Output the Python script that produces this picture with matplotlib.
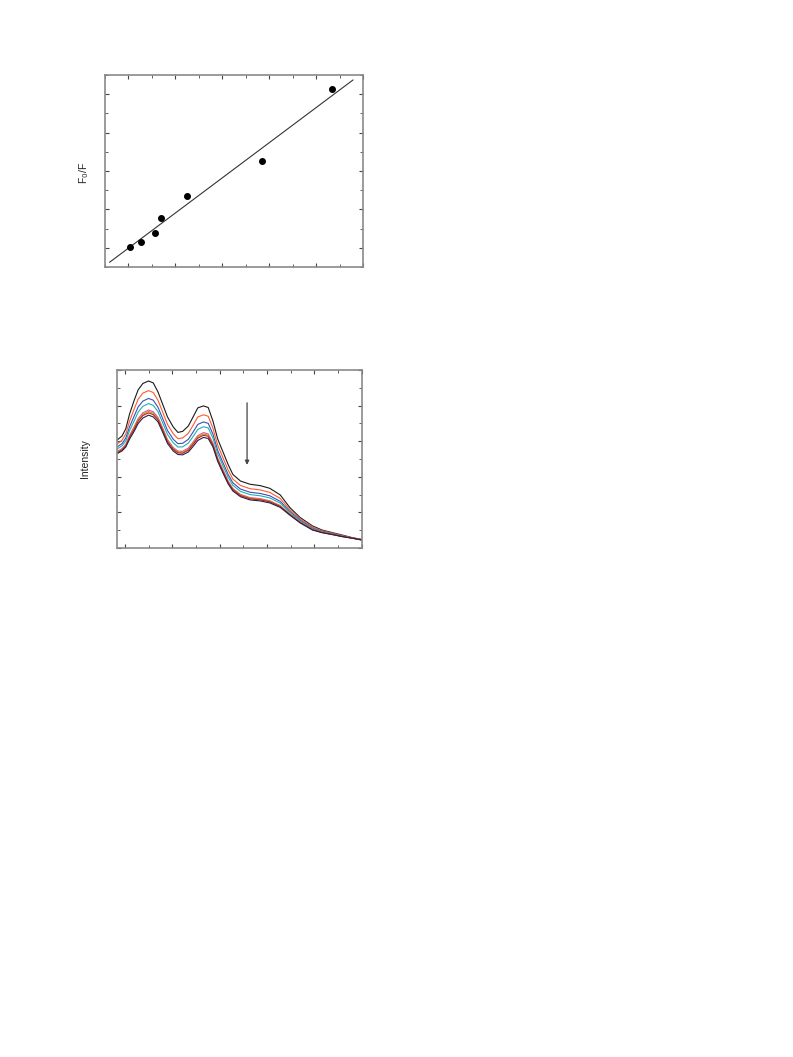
import numpy as np
import matplotlib
matplotlib.use("Agg")
import matplotlib.pyplot as plt
from matplotlib.ticker import MultipleLocator

plt.rcParams['font.family'] = ['Liberation Sans', 'DejaVu Sans']

# ---- Stern-Volmer plot (top) ----
conc = [0.04, 0.26, 0.57, 0.69, 1.24, 2.85, 4.34]
f0_over_f = [1.002, 1.016, 1.038, 1.078, 1.135, 1.227, 1.413]
fit_slope = 0.0916
fit_intercept = 0.9992
fit_range = [-0.40, 4.78]

# ---- emission spectra (bottom) ----
wavelength = [342, 347, 351, 355, 360, 364, 369, 375, 380, 385, 390, 395, 401, 406,
              411, 417, 422, 427, 433, 438, 443, 448, 454, 459, 464, 472, 482, 493,
              503, 514, 524, 535, 548, 558, 569, 579, 590, 600]
spec_black = [607, 629, 670, 753, 832, 888, 924, 938, 927, 876, 806, 736, 680, 649,
              655, 685, 736, 787, 798, 789, 713, 612, 534, 469, 413, 376, 358, 350,
              335, 298, 228, 171, 124, 101, 86, 73, 58, 48]
spec_orange = [585, 605, 641, 713, 783, 835, 870, 884, 873, 829, 762, 694, 642, 614,
               618, 644, 689, 736, 748, 740, 672, 577, 501, 438, 387, 351, 333, 326,
               312, 278, 216, 163, 118, 97, 83, 70, 57, 47]
spec_blue = [568, 586, 618, 681, 743, 792, 825, 840, 830, 790, 726, 660, 611, 586,
             588, 610, 651, 694, 708, 700, 639, 548, 474, 413, 366, 331, 313, 306,
             293, 262, 206, 156, 112, 93, 80, 68, 56, 46]
spec_teal = [556, 574, 602, 660, 716, 763, 796, 811, 801, 765, 702, 638, 591, 567,
             568, 589, 626, 666, 681, 674, 617, 529, 456, 397, 352, 318, 300, 293,
             281, 252, 200, 151, 109, 91, 79, 67, 56, 46]
spec_magenta = [542, 558, 582, 633, 683, 727, 759, 775, 765, 733, 673, 609, 565, 544,
                543, 561, 595, 631, 648, 641, 589, 505, 434, 376, 334, 301, 283, 277,
                265, 238, 191, 145, 104, 88, 77, 65, 55, 45]
spec_olive = [538, 554, 578, 627, 676, 720, 751, 767, 757, 726, 666, 603, 560, 539,
              537, 555, 588, 624, 640, 634, 583, 500, 429, 372, 330, 298, 280, 273,
              262, 236, 190, 144, 103, 88, 76, 65, 55, 45]
spec_red = [535, 551, 574, 622, 669, 712, 744, 759, 749, 720, 660, 597, 554, 534,
            532, 549, 582, 617, 633, 627, 577, 495, 424, 368, 327, 294, 276, 270,
            259, 233, 188, 143, 103, 87, 76, 65, 55, 45]
spec_navy = [530, 545, 567, 612, 657, 699, 730, 746, 736, 708, 649, 587, 545, 525,
             523, 539, 570, 604, 621, 615, 567, 486, 416, 360, 320, 288, 270, 264,
             253, 228, 185, 141, 101, 86, 75, 64, 55, 45]

spectra = [spec_black, spec_orange, spec_blue, spec_teal,
           spec_magenta, spec_olive, spec_red, spec_navy]
spec_colors = ['#1a1a1a', '#ff5a2a', '#3a50b8', '#20b0b0',
               '#e0509a', '#b0a020', '#d01818', '#22224a']

arrow_x = 479
arrow_from = 831
arrow_to = 451

spine_col = '#8a8a8a'
tick_col = '#444444'


def style_axes(ax):
    for s in ax.spines.values():
        s.set_color(spine_col)
        s.set_linewidth(1.2)
    ax.tick_params(which='both', direction='in', top=True, right=True,
                   color=tick_col, labelbottom=False, labelleft=False)
    ax.tick_params(which='major', length=3, width=0.8)
    ax.tick_params(which='minor', length=2, width=0.6)


fig = plt.figure(figsize=(7.93, 10.57), dpi=100)

# top panel
ax1 = fig.add_axes([0.1324, 0.7474, 0.3257, 0.1816])
ax1.plot(fit_range, [fit_intercept + fit_slope * x for x in fit_range],
         color='#333333', lw=0.8)
ax1.plot(conc, f0_over_f, 'o', color='black', ms=4.0)
ax1.set_xlim(-0.5, 5)
ax1.set_ylim(0.95, 1.45)
ax1.xaxis.set_major_locator(MultipleLocator(1))
ax1.xaxis.set_minor_locator(MultipleLocator(0.5))
ax1.yaxis.set_major_locator(MultipleLocator(0.1))
ax1.yaxis.set_minor_locator(MultipleLocator(0.05))
style_axes(ax1)
ax1.set_ylabel('F$_{\\mathit{0}}$/F', fontsize=7.5, color='#222222')
ax1.yaxis.set_label_coords(-0.054, 0.49)

# bottom panel
ax2 = fig.add_axes([0.1479, 0.4816, 0.3082, 0.1684])
for spec, c in zip(spectra, spec_colors):
    ax2.plot(wavelength, spec, color=c, lw=0.8)
ax2.annotate('', xy=(arrow_x, arrow_to), xytext=(arrow_x, arrow_from),
             arrowprops=dict(arrowstyle='-|>', color='#444444', lw=0.9,
                             mutation_scale=6))
ax2.set_xlim(342, 600)
ax2.set_ylim(0, 1000)
ax2.xaxis.set_major_locator(MultipleLocator(50))
ax2.xaxis.set_minor_locator(MultipleLocator(25))
ax2.yaxis.set_major_locator(MultipleLocator(200))
ax2.yaxis.set_minor_locator(MultipleLocator(100))
style_axes(ax2)
ax2.set_ylabel('Intensity', fontsize=7.5, color='#222222')
ax2.yaxis.set_label_coords(-0.112, 0.5)

fig.savefig('out.png', dpi=100)
